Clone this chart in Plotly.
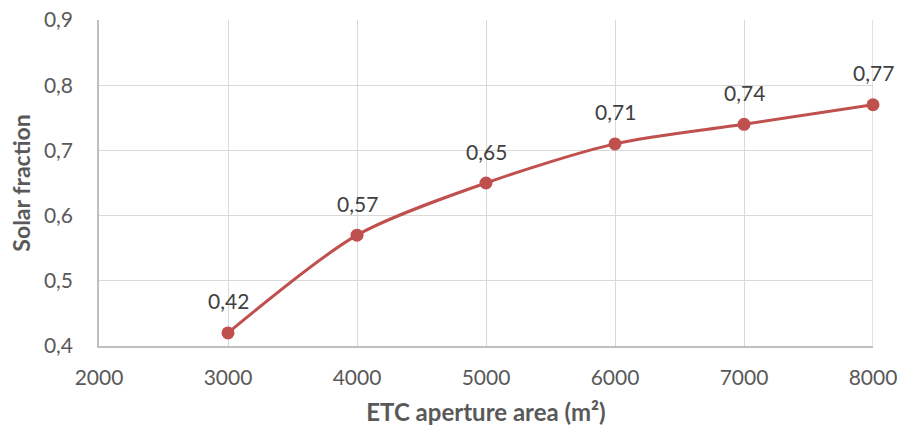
import plotly.graph_objects as go

# ETC aperture area (m²) and the resulting solar fraction
area = [3000, 4000, 5000, 6000, 7000, 8000]
solar_fraction = [0.42, 0.57, 0.65, 0.71, 0.74, 0.77]
x_ticks = [2000, 3000, 4000, 5000, 6000, 7000, 8000]
y_ticks = [0.4, 0.5, 0.6, 0.7, 0.8, 0.9]

line_color = "#C0504D"
font_family = "Lato, 'Open Sans', sans-serif"


def comma(v, digits):
    return f"{v:.{digits}f}".replace(".", ",")


fig = go.Figure()
fig.add_trace(go.Scatter(
    x=area,
    y=solar_fraction,
    mode="lines+markers",
    line=dict(color=line_color, width=3, shape="spline", smoothing=0.8),
    marker=dict(color=line_color, size=13),
    cliponaxis=False,
    showlegend=False,
))

# value labels above each point
for x, y in zip(area, solar_fraction):
    fig.add_annotation(
        x=x, y=y, xref="x", yref="y",
        text=comma(y, 2),
        showarrow=False,
        yshift=32,
        font=dict(family=font_family, size=21, color="#404040"),
    )

fig.update_layout(
    width=898,
    height=427,
    margin=dict(l=99, r=25, t=20, b=81),
    paper_bgcolor="white",
    plot_bgcolor="white",
    font=dict(family=font_family, color="#595959"),
    xaxis=dict(
        range=[2000, 8000],
        tickvals=x_ticks,
        ticktext=[str(v) for v in x_ticks],
        tickfont=dict(size=21, color="#595959"),
        showgrid=True,
        gridcolor="#D9D9D9",
        gridwidth=1,
        showline=True,
        linecolor="#BFBFBF",
        linewidth=1.5,
        zeroline=False,
        ticks="",
        ticklabelstandoff=12,
        automargin=False,
        title=dict(
            text="<b>ETC aperture area (m²)</b>",
            font=dict(size=24, color="#595959"),
            standoff=16,
        ),
    ),
    yaxis=dict(
        range=[0.4, 0.9],
        tickvals=y_ticks,
        ticktext=[comma(v, 1) for v in y_ticks],
        tickfont=dict(size=21, color="#595959"),
        showgrid=True,
        gridcolor="#D9D9D9",
        gridwidth=1,
        showline=True,
        linecolor="#BFBFBF",
        linewidth=1.5,
        zeroline=False,
        ticks="",
        ticklabelstandoff=20,
        automargin=False,
        title=dict(
            text="<b>Solar fraction</b>",
            font=dict(size=23, color="#595959"),
            standoff=7,
        ),
    ),
)

# close the frame on the right with a gridline-coloured edge
fig.add_shape(type="line", xref="x", yref="paper", x0=8000, x1=8000, y0=0, y1=1,
              line=dict(color="#D9D9D9", width=1.5), layer="below")

fig.write_html("out.html")
